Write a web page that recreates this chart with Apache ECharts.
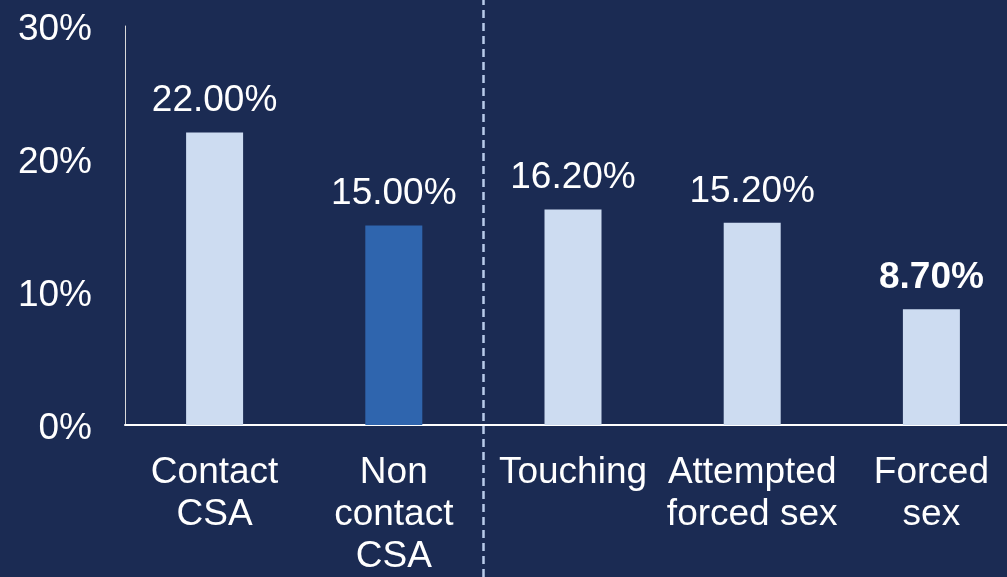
<!DOCTYPE html>
<html>
<head>
<meta charset="utf-8">
<script src="https://cdn.jsdelivr.net/npm/echarts@6/dist/echarts.min.js"></script>
<style>
  html, body { margin: 0; padding: 0; background: #1b2b53; }
  #chart { width: 1007px; height: 577px; }
</style>
</head>
<body>
<div id="chart"></div>
<script>
const categories = ['Contact\nCSA', 'Non\ncontact\nCSA', 'Touching', 'Attempted\nforced sex', 'Forced\nsex']
const values = [22.0, 15.0, 16.2, 15.2, 8.7]
const barColors = ['#cddcf1', '#2f65ae', '#cddcf1', '#cddcf1', '#cddcf1']
const boldLabel = [false, false, false, false, true]
const yTicks = [0, 10, 20, 30]
// dashed divider sits after the first two categories
const dividerAfter = 2

const chart = echarts.init(document.getElementById('chart'))

const font = 'Liberation Sans, Arial, sans-serif'

const option = {
  backgroundColor: '#1b2b53',
  animation: false,
  grid: [
    { left: 125, width: 896, top: 26, bottom: 152, containLabel: false, outerBoundsMode: 'none' },
    { left: 125, width: 896, top: 0, bottom: 0, containLabel: false, outerBoundsMode: 'none' }
  ],
  xAxis: [
    {
      type: 'category',
      data: categories,
      gridIndex: 0,
      axisLine: { lineStyle: { color: '#ffffff', width: 2 } },
      axisTick: { show: false },
      axisLabel: {
        color: '#ffffff',
        fontFamily: font,
        fontSize: 37,
        lineHeight: 42,
        margin: 27,
        verticalAlign: 'top',
        interval: 0
      }
    },
    {
      type: 'value',
      gridIndex: 1,
      min: 0,
      max: categories.length,
      show: false,
      splitLine: { show: false }
    }
  ],
  yAxis: [
    {
      type: 'value',
      gridIndex: 0,
      min: yTicks[0],
      max: yTicks[yTicks.length - 1],
      interval: 10,
      axisLine: { show: true, lineStyle: { color: '#d9d9d9', width: 1 } },
      axisTick: { show: false },
      splitLine: { show: false },
      axisLabel: {
        color: '#ffffff',
        fontFamily: font,
        fontSize: 37,
        margin: 33,
        formatter: '{v|{value}%}',
        rich: {
          v: {
            color: '#ffffff',
            fontFamily: font,
            fontSize: 37,
            padding: [8, 0, 0, 0]
          }
        }
      }
    },
    {
      type: 'value',
      gridIndex: 1,
      min: 0,
      max: 1,
      show: false,
      splitLine: { show: false }
    }
  ],
  series: [
    {
      type: 'bar',
      xAxisIndex: 0,
      yAxisIndex: 0,
      barWidth: 57,
      data: values.map((v, i) => ({
        value: v,
        itemStyle: { color: barColors[i] },
        label: { fontWeight: boldLabel[i] ? 'bold' : 'normal' }
      })),
      label: {
        show: true,
        position: 'top',
        distance: 13,
        color: '#ffffff',
        fontFamily: font,
        fontSize: 37,
        formatter: (p) => p.value.toFixed(2) + '%'
      }
    },
    {
      type: 'line',
      xAxisIndex: 1,
      yAxisIndex: 1,
      data: [],
      markLine: {
        silent: true,
        symbol: 'none',
        label: { show: false },
        lineStyle: { color: '#b9cbea', width: 2.5, type: [8, 5] },
        data: [{ xAxis: dividerAfter }]
      }
    }
  ]
}

chart.setOption(option)
</script>
</body>
</html>
